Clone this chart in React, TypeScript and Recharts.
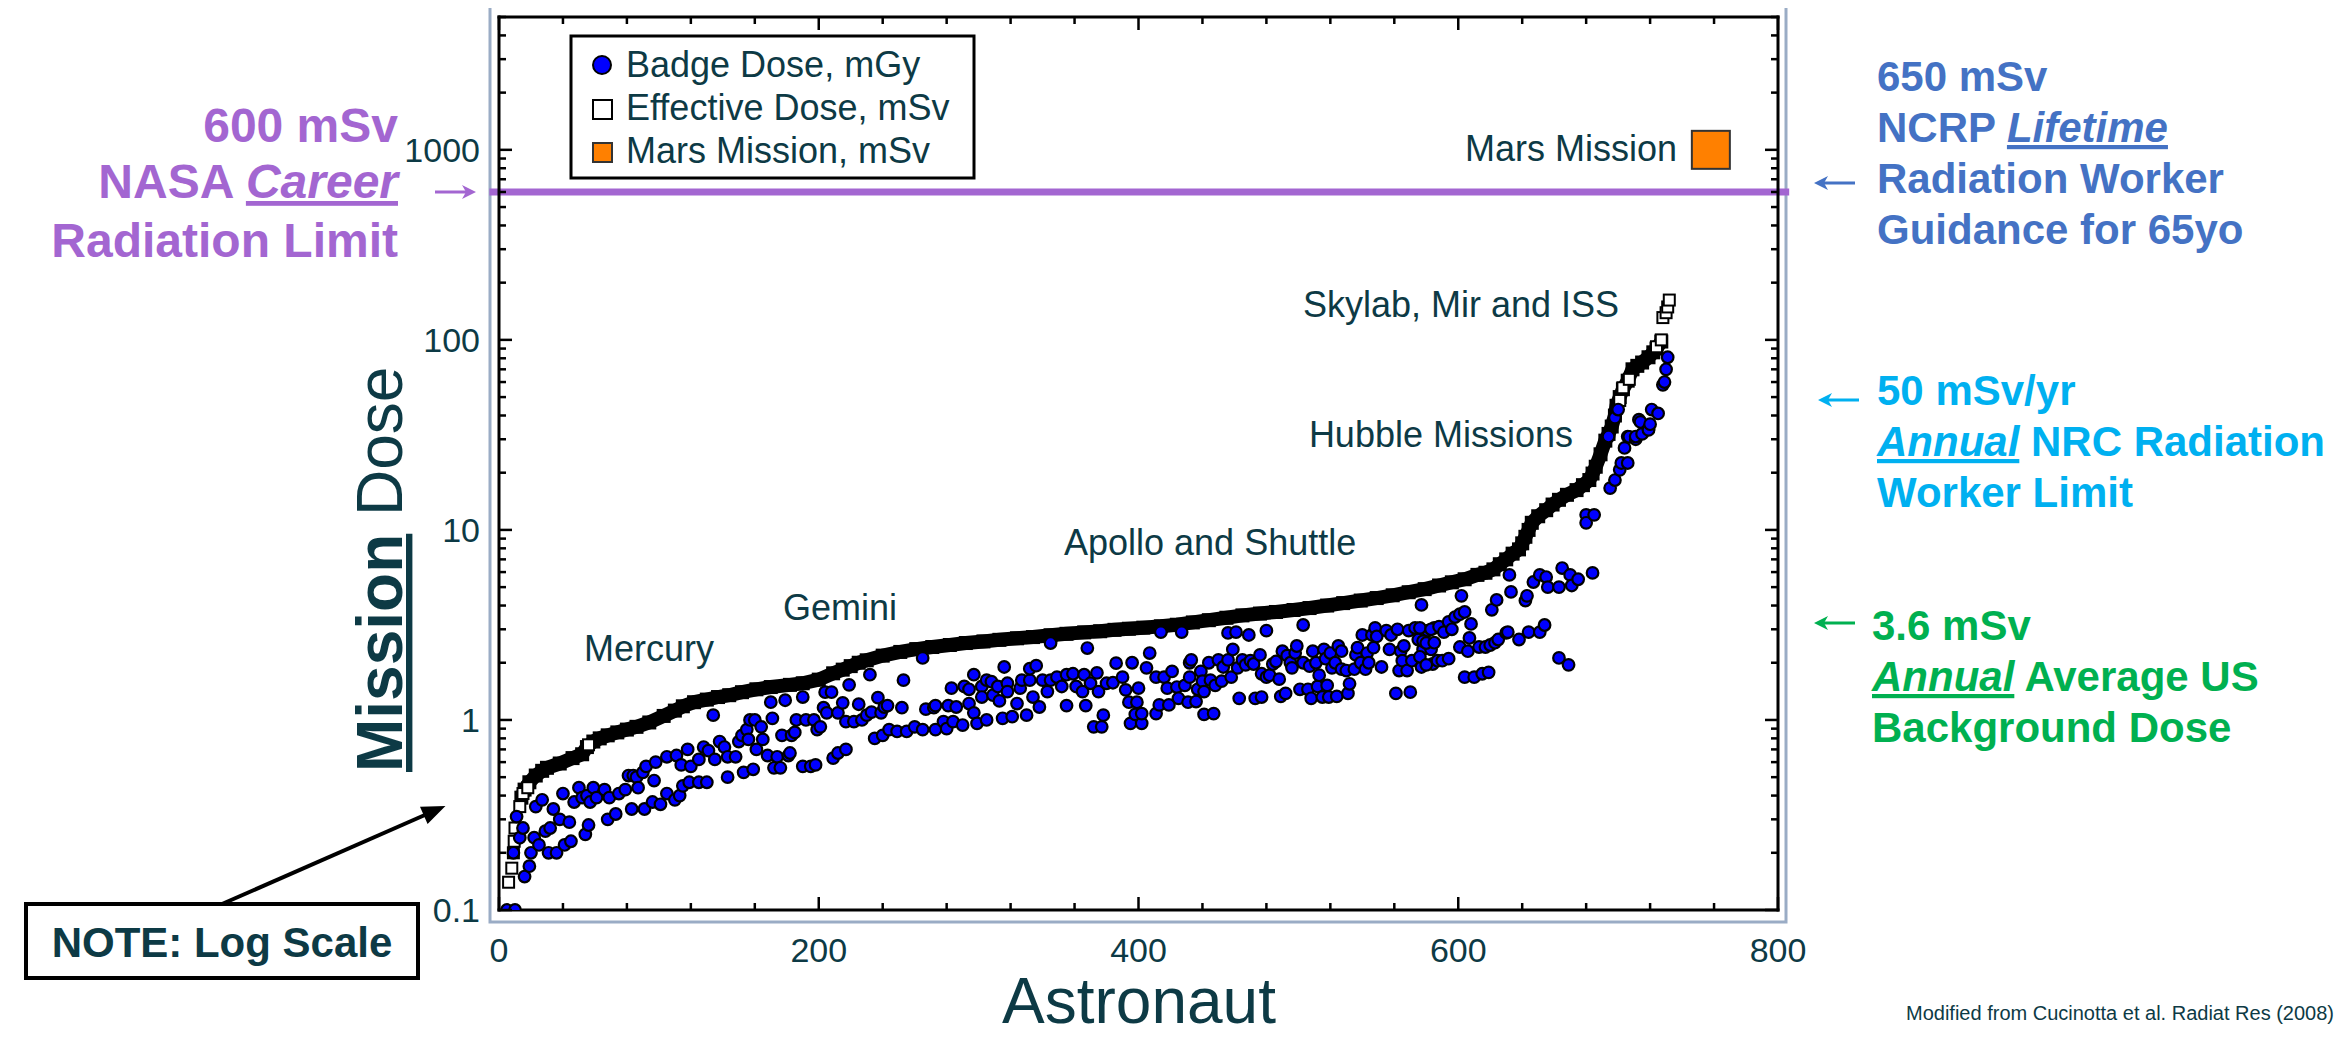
import React from "react";
import { ScatterChart, Scatter, XAxis, YAxis, ReferenceLine } from "recharts";

const TEAL = "#0d3a45";
const PURPLE = "#a366d1";
const BLUE_TXT = "#4472c4";
const CYAN_TXT = "#00b0f0";
const GREEN_TXT = "#00b050";
const FONT = "'Liberation Sans', Arial, sans-serif";

// axis ticks
const xTicks = [0, 40, 80, 120, 160, 200, 240, 280, 320, 360, 400, 440, 480, 520, 560, 600, 640, 680, 720, 760, 800];
const xLabels = [0, 200, 400, 600, 800];
const yTicks = [
  0.1, 0.2, 0.3, 0.4, 0.5, 0.6, 0.7, 0.8, 0.9,
  1, 2, 3, 4, 5, 6, 7, 8, 9,
  10, 20, 30, 40, 50, 60, 70, 80, 90,
  100, 200, 300, 400, 500, 600, 700, 800, 900,
  1000, 2000, 3000, 4000, 5000,
];
const yLabels = [0.1, 1, 10, 100, 1000];

const careerLimit = 600; // mSv

// effective dose, sorted per astronaut: [astronaut, mSv]
// dense part of the curve (drawn as a solid band)
const effectiveBand: [number, number][] = [
  [14, 0.39], [16, 0.43], [19, 0.47], [23, 0.51], [27, 0.54], [30, 0.56], [38, 0.59], [46, 0.63],
  [52, 0.66], [55, 0.72], [59, 0.77], [63, 0.8], [68, 0.83], [74, 0.86], [80, 0.89], [86, 0.92],
  [94, 0.97], [103, 1.05], [110, 1.12], [115, 1.18], [122, 1.24], [130, 1.28], [137, 1.32], [144, 1.35],
  [152, 1.4], [161, 1.45], [170, 1.49], [182, 1.53], [190, 1.56], [200, 1.63], [209, 1.76], [215, 1.84],
  [220, 1.92], [225, 2.0], [230, 2.06], [240, 2.18], [251, 2.28], [261, 2.36], [271, 2.42], [282, 2.48],
  [292, 2.54], [303, 2.59], [313, 2.64], [324, 2.69], [334, 2.73], [345, 2.79], [355, 2.84], [366, 2.89],
  [376, 2.93], [385, 2.98], [394, 3.02], [403, 3.06], [414, 3.11], [424, 3.17], [434, 3.26], [444, 3.35],
  [455, 3.45], [465, 3.55], [476, 3.63], [486, 3.7], [497, 3.79], [507, 3.88], [518, 4.0], [528, 4.12],
  [539, 4.25], [549, 4.38], [559, 4.53], [569, 4.7], [579, 4.88], [588, 5.1], [596, 5.3], [604, 5.5],
  [612, 5.8], [617, 5.95], [622, 6.2], [626, 6.6], [630, 7.0], [634, 7.5], [638, 7.9], [640, 8.5],
  [642, 9.2], [644, 10.0], [646, 10.9], [650, 11.8], [655, 12.7], [659, 13.6], [663, 14.4], [668, 15.3],
  [674, 16.2], [678, 17.2], [682, 18.3], [684, 19.8], [686, 21.5], [689, 25], [692, 29.5], [694, 32],
  [696, 35], [698, 40], [699, 45], [701, 50], [703, 55], [706, 61], [709, 70], [712, 73],
  [715, 76], [719, 81], [722, 86], [724, 90], [727, 98],
];
// squares that stand apart from the band
const effectiveOpen: [number, number][] = [
  [6, 0.14], [8, 0.166], [9, 0.2], [9.5, 0.23], [10, 0.27], [13, 0.35], [15, 0.41], [18, 0.44], [56, 0.74],
  [701, 48], [703, 56], [707, 62], [724, 92], [727, 100], [728, 131], [730, 139], [731, 149], [732, 162],
];

// badge dose, mGy: [astronaut, mGy]
const badgeMercuryGemini: [number, number][] = [
  [5, 0.1], [10, 0.1], [9, 0.2], [11, 0.31], [13, 0.24], [15, 0.27], [16, 0.15], [19, 0.17], [20, 0.2],
  [22, 0.24], [23, 0.35], [25, 0.22], [27, 0.38], [29, 0.26], [31, 0.2], [32, 0.27], [34, 0.34], [36, 0.2],
  [38, 0.3], [40, 0.41], [41, 0.22], [44, 0.29], [45, 0.23], [47, 0.37], [50, 0.44], [52, 0.39], [54, 0.25],
  [55, 0.4], [56, 0.28], [57, 0.37], [59, 0.44], [61, 0.39], [66, 0.43], [68, 0.3], [69, 0.39], [73, 0.32],
  [75, 0.41], [79, 0.43], [81, 0.51], [83, 0.34], [84, 0.51], [86, 0.5], [87, 0.44], [90, 0.53], [91, 0.34],
  [92, 0.57], [96, 0.37], [97, 0.48], [98, 0.6], [101, 0.36], [105, 0.41], [105, 0.64], [110, 0.38], [111, 0.65],
  [113, 0.4], [114, 0.58], [115, 0.45], [118, 0.7], [119, 0.47], [120, 0.57], [125, 0.47], [125, 0.62], [128, 0.72],
  [130, 0.47], [131, 0.69], [134, 1.06], [135, 0.62], [138, 0.77], [141, 0.72], [143, 0.64], [143, 0.5], [148, 0.64],
  [150, 0.77], [152, 0.83], [153, 0.53], [155, 0.89], [156, 0.79], [157, 1.0], [159, 0.55], [160, 1.0], [161, 0.7],
  [164, 0.92], [165, 0.79], [168, 0.65], [170, 1.24], [171, 1.02], [172, 0.56], [174, 0.64], [176, 0.56], [177, 0.83],
  [179, 1.27], [181, 0.65], [182, 0.67], [183, 0.83], [185, 0.86], [186, 1.0], [190, 1.32], [190, 0.57], [192, 1.0],
  [195, 0.57], [197, 1.0], [198, 0.58], [199, 0.89],
];
const badgeApollo: [number, number][] = [
  [201, 0.92], [203, 1.16], [204, 1.4], [205, 1.09], [208, 1.4], [209, 0.63], [212, 1.09], [212, 0.67], [215, 1.23],
  [217, 0.98], [217, 0.7], [219, 1.53], [222, 0.98], [225, 1.21], [227, 1.0], [230, 1.06], [232, 1.73], [233, 1.1],
  [235, 0.8], [237, 1.31], [239, 1.09], [240, 0.83], [241, 1.17], [243, 1.19], [244, 0.89], [249, 0.87], [252, 1.16],
  [253, 1.62], [255, 0.87], [260, 0.92], [265, 0.89], [265, 2.12], [267, 1.14], [272, 1.16], [273, 1.19], [273, 0.89],
  [278, 0.98], [280, 0.9], [281, 1.19], [283, 1.47], [284, 0.98], [286, 1.17], [290, 0.94], [291, 1.5], [294, 1.45],
  [294, 1.22], [297, 1.73], [297, 1.09], [299, 0.96], [302, 1.5], [302, 1.32], [305, 1.0], [305, 1.62], [308, 1.59],
  [309, 1.35], [312, 1.5], [313, 1.26], [315, 1.02], [316, 1.9], [318, 1.56], [318, 1.41], [321, 1.04], [324, 1.22],
  [326, 1.47], [327, 1.62], [330, 1.06], [332, 1.62], [332, 1.86], [334, 1.32], [336, 1.93], [338, 1.17], [340, 1.62],
  [343, 1.41], [345, 1.62], [345, 2.54], [349, 1.68], [352, 1.5], [355, 1.19], [355, 1.73], [359, 1.75], [361, 1.5],
  [365, 1.41], [366, 1.73], [367, 1.19], [368, 2.39], [370, 1.56], [372, 0.92], [374, 1.77], [375, 1.41], [377, 0.92],
  [378, 1.06], [380, 1.56],
];
const badgeShuttle: [number, number][] = [
  [384, 1.57], [386, 1.99], [390, 1.68], [392, 1.44], [394, 1.24], [395, 0.96], [396, 2.0], [398, 1.07], [399, 1.24],
  [400, 1.47], [402, 0.96], [402, 1.08], [405, 1.88], [407, 2.25], [411, 1.08], [411, 1.68], [413, 1.2], [414, 2.9],
  [416, 1.68], [418, 1.47], [419, 1.2], [421, 1.8], [424, 1.49], [425, 1.3], [427, 2.9], [429, 1.52], [431, 1.24],
  [432, 2.0], [432, 1.68], [433, 2.07], [436, 1.25], [437, 1.45], [439, 1.8], [440, 1.6], [441, 1.07], [441, 1.41],
  [444, 2.0], [445, 1.62], [447, 1.08], [448, 1.52], [450, 2.07], [452, 1.6], [453, 1.9], [456, 2.07], [456, 2.87],
  [458, 1.68], [459, 2.35], [461, 2.9], [462, 1.88], [463, 1.3], [465, 2.07], [467, 1.95], [469, 2.8], [470, 2.05],
  [472, 1.97], [473, 1.3], [476, 2.2], [477, 1.32], [477, 1.75], [480, 2.95], [480, 1.68], [482, 1.72], [484, 1.97],
  [486, 2.03], [488, 1.64], [489, 1.33], [490, 2.3], [492, 1.38], [493, 2.18], [495, 2.0], [496, 1.88], [498, 2.25],
  [499, 2.45], [501, 1.45], [503, 2.0], [503, 3.16], [506, 1.45], [507, 1.92], [508, 1.3], [509, 2.3], [511, 2.0],
  [512, 1.5], [513, 1.72], [515, 1.32], [516, 2.35], [517, 2.1], [518, 1.52], [519, 1.32], [520, 2.25], [521, 1.88],
  [523, 2.0], [524, 1.33], [525, 2.45], [527, 2.3], [527, 1.85], [530, 1.82], [531, 1.38], [532, 1.55], [535, 1.85],
  [536, 2.2], [537, 2.4], [539, 2.0], [540, 2.8], [542, 1.85], [543, 2.25], [544, 2.0], [546, 2.8], [547, 2.4],
  [548, 3.05], [549, 2.75], [552, 1.9], [555, 2.95], [557, 2.35], [558, 2.8], [561, 1.38], [562, 3.0], [563, 1.82],
  [564, 2.3], [565, 2.05], [566, 2.45], [568, 1.82], [569, 2.95], [570, 1.4], [571, 2.05], [573, 3.05], [575, 2.65],
  [577, 4.03], [577, 1.9], [578, 2.35], [581, 2.95], [583, 2.35], [584, 1.97], [585, 3.05],
];
const badgeHubbleISS: [number, number][] = [
  [576, 3.05], [576, 2.15], [578, 2.6], [580, 2.54], [580, 1.95], [583, 3.0], [585, 2.55], [587, 2.05], [588, 3.1],
  [590, 2.05], [591, 2.9], [594, 3.28], [594, 2.1], [596, 3.0], [598, 3.48], [601, 3.6], [601, 2.42], [602, 4.5],
  [604, 3.7], [604, 1.68], [606, 2.3], [607, 2.7], [608, 3.2], [610, 1.68], [613, 2.42], [615, 1.75], [617, 2.42],
  [619, 1.78], [620, 2.48], [621, 3.8], [623, 2.55], [624, 4.28], [625, 2.65], [630, 2.87], [631, 2.9], [632, 5.8],
  [633, 4.72], [638, 2.65], [642, 4.25], [643, 4.5], [644, 2.9], [647, 5.32], [651, 5.8], [651, 2.9], [654, 3.16],
  [655, 5.65], [656, 5.0], [663, 5.0], [663, 2.12], [665, 6.3], [669, 1.95], [670, 5.8], [671, 5.1], [675, 5.5],
  [680, 12.0], [680, 10.9], [684, 5.94], [685, 12.0], [694, 31], [695, 16.6], [698, 18.3], [698, 39], [700, 43],
  [701, 20.7], [702, 22.5], [704, 27], [706, 22.5], [706, 31], [707, 30.9], [711, 30], [711, 31], [713, 38],
  [714, 37], [715, 32], [719, 34], [719, 33.6], [720, 36], [721, 43], [725, 41], [728, 58], [729, 60], [730, 70],
  [731, 81],
];
const marsMission: [number, number][] = [[758, 1000]];

const pts = (a: [number, number][]) => a.map(([x, y]) => ({ x, y }));
const badgeAll = pts([...badgeMercuryGemini, ...badgeApollo, ...badgeShuttle, ...badgeHubbleISS]);

const AXIS = { stroke: "#000", strokeWidth: 3, strokeLinecap: "square" as const };
const MAJOR = 13;
const MINOR = 7;

const BottomTick = (p: any) => {
  const v = p.payload.value;
  const major = xLabels.includes(v);
  return (
    <g>
      <line x1={p.x} x2={p.x} y1={p.y} y2={p.y - (major ? MAJOR : MINOR)} stroke="#000" strokeWidth={2.5} />
      {major && (
        <text x={p.x} y={p.y + 52} textAnchor="middle" fontSize={34} fill={TEAL} fontFamily={FONT}>
          {v}
        </text>
      )}
    </g>
  );
};
const TopTick = (p: any) => {
  const major = xLabels.includes(p.payload.value);
  return <line x1={p.x} x2={p.x} y1={p.y} y2={p.y + (major ? MAJOR : MINOR)} stroke="#000" strokeWidth={2.5} />;
};
const LeftTick = (p: any) => {
  const v = p.payload.value;
  const major = yLabels.includes(v);
  return (
    <g>
      <line x1={p.x} x2={p.x + (major ? MAJOR : MINOR)} y1={p.y} y2={p.y} stroke="#000" strokeWidth={2.5} />
      {major && (
        <text x={p.x - 19} y={p.y} dy="0.36em" textAnchor="end" fontSize={34} fill={TEAL} fontFamily={FONT}>
          {v}
        </text>
      )}
    </g>
  );
};
const RightTick = (p: any) => {
  const major = yLabels.includes(p.payload.value);
  return <line x1={p.x} x2={p.x - (major ? MAJOR : MINOR)} y1={p.y} y2={p.y} stroke="#000" strokeWidth={2.5} />;
};

const BandSquare = (p: any) => <rect x={p.cx - 7} y={p.cy - 7} width={14} height={14} fill="#000" />;
const OpenSquare = (p: any) => (
  <rect x={p.cx - 5.5} y={p.cy - 5.5} width={11} height={11} fill="#fff" stroke="#000" strokeWidth={2} />
);
const BadgeDot = (p: any) => <circle cx={p.cx} cy={p.cy} r={5.8} fill="#0000ff" stroke="#000" strokeWidth={2.2} />;
const MarsSquare = (p: any) => (
  <rect x={p.cx - 19} y={p.cy - 19} width={38} height={38} fill="#ff8000" stroke="#333" strokeWidth={2} />
);

const txt = { fontFamily: FONT, fill: TEAL };
const ul = { textDecoration: "underline" };

const Annotations = () => (
  <svg width={2346} height={1037} style={{ position: "absolute", left: -8, top: -8, pointerEvents: "none" }}>
    {/* legend */}
    <rect x={571} y={36} width={403} height={142} fill="#fff" stroke="#000" strokeWidth={3} />
    <circle cx={602} cy={65} r={9} fill="#0000ff" stroke="#000" strokeWidth={2} />
    <text x={626} y={77} fontSize={36} {...txt}>Badge Dose, mGy</text>
    <rect x={593} y={100} width={19} height={19} fill="#fff" stroke="#000" strokeWidth={2} />
    <text x={626} y={120} fontSize={36} {...txt}>Effective Dose, mSv</text>
    <rect x={593} y={143} width={19} height={19} fill="#ff8000" stroke="#333" strokeWidth={2} />
    <text x={626} y={163} fontSize={36} {...txt}>Mars Mission, mSv</text>

    {/* in-plot labels */}
    <text x={1677} y={161} fontSize={36} textAnchor="end" {...txt}>Mars Mission</text>
    <text x={1619} y={317} fontSize={36} textAnchor="end" {...txt}>Skylab, Mir and ISS</text>
    <text x={1573} y={447} fontSize={36} textAnchor="end" {...txt}>Hubble Missions</text>
    <text x={1064} y={555} fontSize={36} {...txt}>Apollo and Shuttle</text>
    <text x={783} y={620} fontSize={36} {...txt}>Gemini</text>
    <text x={584} y={661} fontSize={36} {...txt}>Mercury</text>

    {/* axis titles */}
    <text x={1139} y={1023} fontSize={64} textAnchor="middle" {...txt}>Astronaut</text>
    <text x={402} y={772} fontSize={64} transform="rotate(-90 402 772)" {...txt}>
      <tspan fontWeight="bold" style={ul}>Mission</tspan>
      <tspan> Dose</tspan>
    </text>

    {/* left limit */}
    <g fontFamily={FONT} fontWeight="bold" fontSize={48} fill={PURPLE} textAnchor="end">
      <text x={398} y={142}>600 mSv</text>
      <text x={398} y={198}>
        NASA <tspan fontStyle="italic" style={ul}>Career</tspan>
      </text>
      <text x={398} y={257}>Radiation Limit</text>
    </g>
    <line x1={435} y1={192} x2={468} y2={192} stroke={PURPLE} strokeWidth={3} />
    <path d="M476,192 L462,185 L466,192 L462,199 Z" fill={PURPLE} />

    {/* right guidance */}
    <g fontFamily={FONT} fontWeight="bold" fontSize={42}>
      <g fill={BLUE_TXT}>
        <text x={1877} y={91}>650 mSv</text>
        <text x={1877} y={142}>
          NCRP <tspan fontStyle="italic" style={ul}>Lifetime</tspan>
        </text>
        <text x={1877} y={193}>Radiation Worker</text>
        <text x={1877} y={244}>Guidance for 65yo</text>
      </g>
      <g fill={CYAN_TXT}>
        <text x={1877} y={405}>50 mSv/yr</text>
        <text x={1877} y={456}>
          <tspan fontStyle="italic" style={ul}>Annual</tspan> NRC Radiation
        </text>
        <text x={1877} y={507}>Worker Limit</text>
      </g>
      <g fill={GREEN_TXT}>
        <text x={1872} y={640}>3.6 mSv</text>
        <text x={1872} y={691}>
          <tspan fontStyle="italic" style={ul}>Annual</tspan> Average US
        </text>
        <text x={1872} y={742}>Background Dose</text>
      </g>
    </g>
    <line x1={1822} y1={183} x2={1855} y2={183} stroke={BLUE_TXT} strokeWidth={3} />
    <path d="M1814,183 L1828,176 L1824,183 L1828,190 Z" fill={BLUE_TXT} />
    <line x1={1826} y1={400} x2={1859} y2={400} stroke={CYAN_TXT} strokeWidth={3} />
    <path d="M1818,400 L1832,393 L1828,400 L1832,407 Z" fill={CYAN_TXT} />
    <line x1={1822} y1={623} x2={1855} y2={623} stroke={GREEN_TXT} strokeWidth={3} />
    <path d="M1814,623 L1828,616 L1824,623 L1828,630 Z" fill={GREEN_TXT} />

    {/* note */}
    <line x1={222} y1={904} x2={426} y2={814.5} stroke="#000" strokeWidth={4} />
    <path d="M443,807 L427.9,822.3 L421.5,807.7 Z" fill="#000" stroke="#000" strokeWidth={2} />
    <rect x={26} y={904} width={392} height={74} fill="#fff" stroke="#000" strokeWidth={4} />
    <text x={222} y={957} fontSize={42} fontWeight="bold" textAnchor="middle" {...txt}>NOTE: Log Scale</text>

    <text x={2334} y={1020} fontSize={20} textAnchor="end" {...txt}>
      Modified from Cucinotta et al. Radiat Res (2008)
    </text>
  </svg>
);

export default function App() {
  return (
    <div style={{ position: "relative", width: 2330, height: 1021 }}>
      <svg width={2346} height={1037} style={{ position: "absolute", left: -8, top: -8 }}>
        <rect x={490} y={5} width={1296} height={917} fill="#fff" stroke="#9aacc5" strokeWidth={3} />
      </svg>
      <ScatterChart width={2330} height={1021} margin={{ top: 8, right: 500, bottom: 79, left: 431 }}>
        <XAxis
          type="number" dataKey="x" domain={[0, 800]} ticks={xTicks} interval={0} height={40}
          tickSize={0} tickMargin={0} tickLine={false} axisLine={AXIS} tick={<BottomTick />} allowDataOverflow
        />
        <XAxis
          xAxisId="top" orientation="top" type="number" dataKey="x" domain={[0, 800]} ticks={xTicks} interval={0}
          height={1} tickSize={0} tickMargin={0} tickLine={false} axisLine={AXIS} tick={<TopTick />} allowDataOverflow
        />
        <YAxis
          type="number" dataKey="y" scale="log" domain={[0.1, 5000]} ticks={yTicks} interval={0} width={60}
          tickSize={0} tickMargin={0} tickLine={false} axisLine={AXIS} tick={<LeftTick />} allowDataOverflow
        />
        <YAxis
          yAxisId="right" orientation="right" type="number" dataKey="y" scale="log" domain={[0.1, 5000]} ticks={yTicks}
          interval={0} width={60} tickSize={0} tickMargin={0} tickLine={false} axisLine={AXIS} tick={<RightTick />}
          allowDataOverflow
        />
        <ReferenceLine
          segment={[{ x: -6, y: careerLimit }, { x: 807, y: careerLimit }]}
          stroke={PURPLE} strokeWidth={7} ifOverflow="visible"
        />
        <Scatter
          name="Effective Dose band" data={pts(effectiveBand)} shape={BandSquare}
          line={{ stroke: "#000", strokeWidth: 14, strokeLinejoin: "round" }} isAnimationActive={false}
        />
        <Scatter name="Effective Dose, mSv" data={pts(effectiveOpen)} shape={OpenSquare} isAnimationActive={false} />
        <Scatter name="Badge Dose, mGy" data={badgeAll} shape={BadgeDot} isAnimationActive={false} />
        <Scatter name="Mars Mission, mSv" data={pts(marsMission)} shape={MarsSquare} isAnimationActive={false} />
      </ScatterChart>
      <Annotations />
    </div>
  );
}
